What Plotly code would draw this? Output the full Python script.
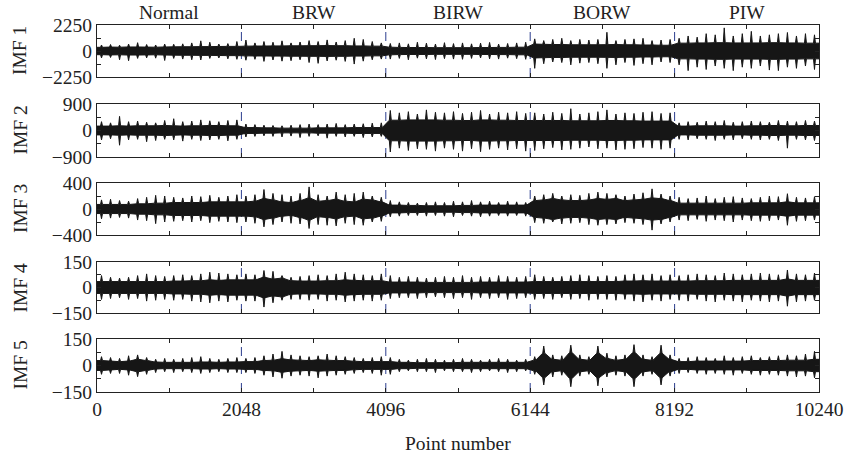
import plotly.graph_objects as go

N_POINTS = 10240
BIN = 128        # envelope bin width (points)

segments = ["Normal", "BRW", "BIRW", "BORW", "PIW"]
segment_centers = [1024, 3072, 5120, 7168, 9216]
boundaries = [2048, 4096, 6144, 8192]
x_tickvals = [0, 1024, 2048, 3072, 4096, 5120, 6144, 7168, 8192, 9216, 10240]
x_ticktext = ["0", "", "2048", "", "4096", "", "6144", "", "8192", "", "10240"]
imf_names = ["IMF 1", "IMF 2", "IMF 3", "IMF 4", "IMF 5"]
imf_ranges = [2250, 900, 400, 150, 150]

# ---- IMF 1 ----  (peak above / below zero and dense core amplitude per 128-point bin)
imf1_up = [520, 560, 500, 600, 720, 560, 520, 600, 580, 620, 700, 880, 760, 600, 640, 820,
           950, 700, 820, 760, 880, 700, 780, 900, 820, 960, 780, 900, 1100, 1000, 820, 700,
           650, 700, 620, 760, 680, 600, 720, 640, 700, 620, 680, 740, 600, 650, 700, 760,
           1050, 900, 1000, 1100, 900, 1000, 950, 1000, 1620, 900, 1000, 1050, 1100, 900, 950, 1000,
           1100, 1300, 1200, 1500, 1400, 2000, 1300, 1500, 1700, 1300, 1400, 1500, 1600, 1300, 1500, 1400]
imf1_down = [600, 560, 760, 840, 640, 600, 620, 820, 640, 700, 760, 780, 640, 600, 680, 720,
             800, 720, 900, 780, 880, 840, 760, 1000, 1070, 860, 800, 900, 1130, 880, 760, 700,
             700, 640, 760, 620, 680, 740, 660, 700, 720, 640, 600, 680, 700, 620, 660, 720,
             1500, 1100, 950, 1000, 1200, 1050, 1000, 1100, 1500, 1200, 1000, 1250, 1100, 1200, 950, 1000,
             1200, 1700, 1400, 1600, 1300, 1500, 1700, 1400, 1500, 1300, 1650, 1700, 1400, 1500, 1300, 1600]
imf1_core = [320, 340, 330, 350, 350, 340, 330, 350, 360, 370, 370, 380, 380, 390, 400, 400,
             420, 430, 430, 440, 440, 450, 450, 460, 460, 470, 460, 460, 440, 440, 420, 420,
             330, 310, 300, 300, 300, 290, 290, 290, 290, 290, 300, 300, 310, 310, 330, 330,
             600, 580, 560, 560, 540, 540, 540, 540, 550, 560, 540, 540, 520, 520, 500, 500,
             680, 680, 700, 700, 720, 720, 700, 700, 700, 700, 720, 720, 700, 700, 680, 680]

# ---- IMF 2 ----
imf2_up = [300, 260, 480, 300, 320, 280, 260, 340, 400, 300, 320, 360, 330, 300, 340, 360,
           220, 200, 180, 170, 160, 180, 200, 220, 200, 220, 240, 200, 220, 230, 250, 260,
           680, 600, 640, 560, 700, 620, 600, 640, 580, 620, 680, 560, 620, 600, 640, 580,
           600, 560, 620, 580, 740, 560, 600, 640, 700, 560, 600, 580, 620, 640, 580, 600,
           260, 300, 280, 320, 300, 340, 280, 300, 320, 300, 280, 340, 320, 300, 340, 320]
imf2_down = [320, 280, 500, 320, 300, 380, 340, 300, 320, 360, 300, 340, 320, 300, 350, 300,
             220, 200, 180, 200, 220, 190, 240, 200, 180, 260, 200, 220, 200, 240, 220, 200,
             730, 600, 680, 620, 640, 700, 600, 640, 700, 620, 720, 640, 600, 660, 620, 700,
             680, 620, 580, 660, 640, 600, 560, 620, 600, 660, 640, 620, 580, 600, 640, 600,
             300, 320, 280, 300, 340, 300, 320, 280, 300, 320, 300, 340, 600, 300, 320, 340]
imf2_core = [150, 150, 160, 150, 160, 160, 160, 170, 160, 150, 160, 160, 170, 170, 160, 160,
             100, 100, 90, 90, 80, 80, 80, 80, 90, 90, 90, 90, 100, 100, 100, 100,
             350, 350, 360, 360, 360, 360, 350, 350, 340, 340, 360, 360, 350, 350, 340, 340,
             340, 340, 340, 340, 330, 330, 330, 330, 340, 340, 330, 330, 320, 320, 320, 320,
             150, 150, 160, 160, 160, 160, 150, 150, 160, 160, 170, 170, 160, 160, 170, 170]

# ---- IMF 3 ----
imf3_up = [140, 150, 130, 120, 160, 180, 210, 200, 180, 170, 200, 190, 210, 180, 200, 220,
           200, 220, 300, 240, 220, 200, 240, 340, 220, 200, 260, 220, 240, 260, 200, 180,
           130, 110, 100, 90, 100, 110, 100, 120, 110, 130, 110, 120, 100, 120, 110, 100,
           200, 220, 240, 200, 220, 210, 240, 260, 240, 220, 200, 230, 250, 310, 230, 200,
           180, 160, 170, 200, 160, 180, 190, 170, 160, 180, 200, 190, 235, 180, 170, 190]
imf3_down = [150, 140, 130, 140, 170, 180, 225, 200, 190, 180, 200, 180, 210, 190, 200, 210,
             200, 220, 275, 240, 200, 220, 230, 300, 240, 250, 260, 220, 240, 250, 200, 190,
             120, 110, 100, 100, 110, 100, 110, 120, 100, 110, 120, 110, 100, 110, 100, 110,
             210, 220, 200, 230, 220, 210, 240, 250, 240, 230, 210, 220, 240, 325, 230, 200,
             170, 180, 160, 190, 170, 180, 200, 170, 180, 190, 180, 170, 250, 190, 180, 170]
imf3_core = [70, 70, 70, 70, 80, 80, 90, 90, 100, 100, 100, 100, 110, 110, 110, 110,
             110, 120, 160, 140, 110, 100, 130, 170, 120, 130, 150, 120, 110, 150, 140, 110,
             60, 60, 55, 55, 50, 50, 50, 50, 55, 55, 60, 60, 60, 60, 60, 60,
             130, 140, 160, 140, 130, 130, 140, 160, 150, 160, 130, 140, 150, 170, 160, 130,
             90, 90, 90, 90, 90, 90, 90, 90, 95, 95, 95, 95, 110, 95, 95, 95]

# ---- IMF 4 ----
imf4_up = [70, 60, 55, 60, 70, 80, 70, 65, 70, 75, 70, 80, 90, 85, 80, 75,
           80, 75, 100, 95, 70, 60, 65, 70, 75, 70, 80, 90, 80, 75, 70, 80,
           70, 60, 65, 60, 55, 60, 65, 60, 70, 60, 65, 60, 70, 65, 60, 65,
           75, 65, 60, 65, 70, 75, 70, 65, 70, 65, 75, 80, 75, 80, 70, 75,
           70, 75, 80, 75, 70, 85, 80, 75, 80, 85, 80, 75, 103, 80, 75, 85]
imf4_down = [70, 65, 60, 70, 65, 80, 75, 70, 75, 70, 80, 85, 90, 80, 85, 75,
             80, 80, 115, 90, 75, 70, 70, 75, 70, 80, 75, 85, 80, 75, 80, 75,
             65, 60, 60, 65, 60, 55, 60, 65, 60, 70, 60, 65, 60, 70, 65, 60,
             70, 65, 70, 60, 70, 65, 75, 70, 70, 75, 70, 80, 85, 75, 80, 70,
             75, 80, 70, 80, 85, 75, 80, 85, 75, 80, 85, 80, 110, 85, 80, 75]
imf4_core = [35, 35, 35, 35, 35, 35, 35, 35, 38, 38, 40, 40, 45, 42, 45, 45,
             45, 45, 60, 50, 55, 40, 38, 38, 38, 40, 40, 45, 42, 40, 40, 40,
             32, 32, 32, 32, 30, 30, 30, 30, 30, 30, 32, 32, 32, 32, 32, 32,
             35, 35, 35, 35, 35, 35, 35, 35, 35, 35, 38, 38, 40, 38, 38, 38,
             38, 38, 40, 40, 40, 40, 42, 42, 42, 42, 42, 42, 50, 42, 42, 42]

# ---- IMF 5 ----
imf5_up = [50, 45, 40, 55, 60, 45, 35, 40, 35, 40, 45, 50, 40, 35, 40, 45,
           40, 45, 55, 65, 80, 60, 55, 50, 55, 65, 55, 50, 45, 40, 45, 50,
           45, 35, 30, 35, 40, 35, 30, 35, 40, 35, 30, 35, 40, 35, 30, 35,
           50, 110, 60, 55, 115, 60, 50, 110, 70, 55, 60, 118, 60, 50, 115, 60,
           40, 45, 50, 45, 40, 55, 45, 50, 55, 45, 50, 55, 60, 55, 65, 80]
imf5_down = [50, 45, 45, 55, 63, 50, 40, 35, 40, 35, 40, 45, 40, 35, 40, 40,
             40, 45, 55, 65, 72, 60, 55, 60, 70, 60, 55, 50, 45, 40, 45, 55,
             50, 35, 30, 35, 35, 40, 30, 35, 35, 40, 35, 30, 35, 40, 35, 30,
             50, 110, 65, 55, 120, 60, 50, 115, 65, 55, 60, 120, 60, 50, 110, 60,
             45, 40, 45, 50, 45, 50, 55, 45, 50, 55, 50, 55, 60, 65, 60, 70]
imf5_core = [28, 25, 22, 25, 35, 28, 20, 18, 18, 18, 18, 20, 20, 18, 20, 20,
             22, 22, 28, 30, 38, 32, 30, 28, 32, 30, 28, 28, 24, 22, 22, 22,
             22, 18, 18, 16, 16, 16, 16, 16, 18, 18, 18, 18, 18, 18, 18, 18,
             30, 70, 35, 30, 75, 35, 30, 70, 40, 30, 35, 75, 35, 30, 70, 35,
             22, 22, 25, 25, 25, 25, 25, 25, 28, 28, 28, 28, 30, 30, 30, 35]

ups = [imf1_up, imf2_up, imf3_up, imf4_up, imf5_up]
downs = [imf1_down, imf2_down, imf3_down, imf4_down, imf5_down]
cores = [imf1_core, imf2_core, imf3_core, imf4_core, imf5_core]

# ---------------- layout geometry ----------------
W, H = 845, 458
ML, MR, MT, MB = 97, 26, 25, 66
plot_h = H - MT - MB
panel_px = [(25, 77), (104, 157), (183, 235), (262, 313), (339, 392)]  # top, bottom in px
domains = [[(H - MB - b) / plot_h, (H - MB - t) / plot_h] for t, b in panel_px]

FONT = "Liberation Serif, Times New Roman, serif"
FS = 19.5
SIG = "#161616"
DASH_COL = "#2c3e8f"
TOOTH = 14   # half-width of a spike base, in points (style only)

fig = go.Figure()
layout = dict(
    width=W, height=H,
    margin=dict(l=ML, r=MR, t=MT, b=MB, autoexpand=False),
    paper_bgcolor="white", plot_bgcolor="white",
    showlegend=False,
    font=dict(family=FONT, size=FS, color="#222"),
    shapes=[], annotations=[],
)

for k in range(5):
    sfx = "" if k == 0 else str(k + 1)
    xa, ya = "x" + sfx, "y" + sfx
    up, dn, core = ups[k], downs[k], cores[k]
    R = imf_ranges[k]

    # one polygon: dense core band (vertices at bin centres) with a spike per bin
    top_x, top_y, bot_x, bot_y = [0], [core[0]], [0], [-core[0]]
    for i in range(len(up)):
        c = BIN * i + BIN / 2
        cv = core[i]
        top_x += [c - TOOTH, c, c + TOOTH]
        top_y += [cv, up[i], cv]
        bot_x += [c - TOOTH, c, c + TOOTH]
        bot_y += [-cv, -dn[i], -cv]
    top_x.append(N_POINTS); top_y.append(core[-1])
    bot_x.append(N_POINTS); bot_y.append(-core[-1])
    poly_x = top_x + bot_x[::-1]
    poly_y = top_y + bot_y[::-1]
    fig.add_trace(go.Scatter(x=poly_x, y=poly_y, fill="toself", fillcolor=SIG,
                             line=dict(color=SIG, width=1), mode="lines",
                             xaxis=xa, yaxis=ya, hoverinfo="skip"))

    layout["xaxis" + sfx] = dict(
        domain=[0, 1], anchor=ya, range=[0, N_POINTS], automargin=False,
        tickvals=x_tickvals, ticktext=x_ticktext if k == 4 else [""] * len(x_tickvals),
        showticklabels=(k == 4),
        ticks="inside", ticklen=4, tickcolor="#222", tickwidth=1,
        showline=True, linecolor="#222", linewidth=1, mirror="ticks",
        showgrid=False, zeroline=False,
        tickfont=dict(family=FONT, size=FS, color="#222"),
    )
    layout["yaxis" + sfx] = dict(
        domain=domains[k], anchor=xa, range=[-R, R], automargin=False,
        tickvals=[-R, -R / 2, 0, R / 2, R],
        ticktext=["\u2212" + str(R), "", "0", "", str(R)],
        ticks="inside", ticklen=4, tickcolor="#222", tickwidth=1,
        showline=True, linecolor="#222", linewidth=1, mirror="ticks",
        showgrid=False, zeroline=False,
        tickfont=dict(family=FONT, size=FS, color="#222"),
    )
    for b in boundaries:
        layout["shapes"].append(dict(
            type="line", xref=xa, yref=ya + " domain", x0=b, x1=b, y0=0, y1=1,
            line=dict(color=DASH_COL, width=1, dash="dash"), layer="below"))
    ymid = (domains[k][0] + domains[k][1]) / 2
    layout["annotations"].append(dict(
        text=imf_names[k], xref="paper", yref="paper", x=(20 - ML) / (W - ML - MR), y=ymid,
        textangle=-90, showarrow=False, xanchor="center", yanchor="middle",
        font=dict(family=FONT, size=FS, color="#222")))

for name, c in zip(segments, segment_centers):
    layout["annotations"].append(dict(
        text=name, xref="x", yref="paper", x=c, y=(H - MB - 13) / plot_h,
        showarrow=False, xanchor="center", yanchor="middle",
        font=dict(family=FONT, size=FS, color="#222")))

layout["annotations"].append(dict(
    text="Point number", xref="paper", yref="paper", x=0.5, y=(H - MB - 443) / plot_h,
    showarrow=False, xanchor="center", yanchor="middle",
    font=dict(family=FONT, size=FS, color="#222")))

fig.update_layout(**layout)
fig.write_html("out.html", config={"displayModeBar": False},
               post_script="document.body.style.margin='0px';document.body.style.overflow='hidden';")
